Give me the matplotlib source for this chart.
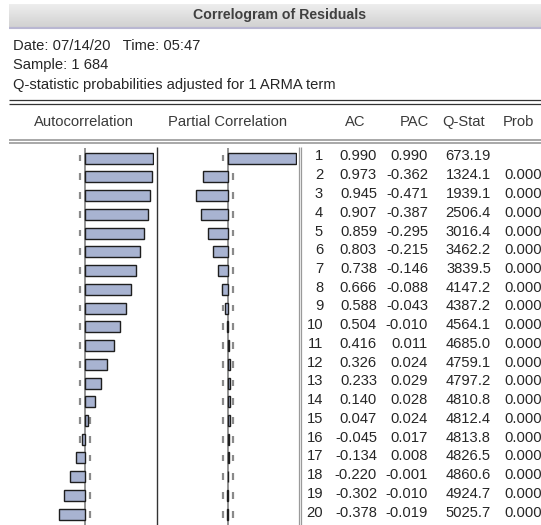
import numpy as np
import matplotlib
matplotlib.use("Agg")
import matplotlib.pyplot as plt

# correlogram of residuals (EViews style)
lags = list(range(1, 21))
ac = [0.990, 0.973, 0.945, 0.907, 0.859, 0.803, 0.738, 0.666, 0.588, 0.504,
      0.416, 0.326, 0.233, 0.140, 0.047, -0.045, -0.134, -0.220, -0.302, -0.378]
pac = [0.990, -0.362, -0.471, -0.387, -0.295, -0.215, -0.146, -0.088, -0.043, -0.010,
       0.011, 0.024, 0.029, 0.028, 0.024, 0.017, 0.008, -0.001, -0.010, -0.019]
qstat = [673.19, 1324.1, 1939.1, 2506.4, 3016.4, 3462.2, 3839.5, 4147.2, 4387.2, 4564.1,
         4685.0, 4759.1, 4797.2, 4810.8, 4812.4, 4813.8, 4826.5, 4860.6, 4924.7, 5025.7]
prob = [None] + [0.000] * 19
nobs = 684

title = "Correlogram of Residuals"
info = ["Date: 07/14/20   Time: 05:47",
        "Sample: 1 684",
        "Q-statistic probabilities adjusted for 1 ARMA term"]
headers = ["Autocorrelation", "Partial Correlation", "AC", "PAC", "Q-Stat", "Prob"]

plt.rcParams['font.family'] = ['Liberation Sans', 'DejaVu Sans']
FS = 10.6
bar_fill = "#a8b3d1"
txt_col = "#262626"

W, H = 541, 525
fig = plt.figure(figsize=(W / 100, H / 100), dpi=100)


def px_axes(x0, y0, x1, y1):
    return fig.add_axes([x0 / W, 1 - y1 / H, (x1 - x0) / W, (y1 - y0) / H])


# full-figure frame for title bar, header and rules
frame = px_axes(0, 0, W, H)
frame.set_xlim(0, W)
frame.set_ylim(H, 0)
frame.axis("off")

grad = np.linspace(0.93, 0.82, 50).reshape(-1, 1)
frame.imshow(grad, cmap="gray", vmin=0, vmax=1, aspect="auto",
             extent=[9, W, 27, 4], zorder=0)
frame.hlines(28, 9, W, color="#b9b7d2", lw=1.5)
frame.text(280, 15, title, ha="center", va="center", fontsize=10.2,
           fontweight="bold", color="#404040")

for i, line in enumerate(info):
    frame.text(13, 46 + i * 19.5, line, ha="left", va="center", fontsize=FS, color=txt_col)

frame.hlines([100, 103.5], 9, W, color="#333333", lw=0.9)
frame.hlines([139.5, 143], 9, W, color="#9a9a9a", lw=1.2)

head_x = [84, 228, 355, 414, 464, 518]
for hx, h in zip(head_x, headers):
    frame.text(hx, 122, h, ha="center", va="center", fontsize=FS, color="#3a3a3a")

frame.vlines(157, 147, H, color="#333333", lw=1.0)
frame.vlines([298.5, 300.5], 147, H, color="#9a9a9a", lw=0.9)

# row mapping: lag 1 centred at pixel 158, pitch 18.75 px
pitch, first, top = 18.75, 158, 148
ylim = (1 + (H - first) / pitch, 1 - (first - top) / pitch)
bar_h = 11 / pitch
band = 2 / np.sqrt(nobs)


def panel(x_zero, values):
    ax = px_axes(x_zero - 69, top, x_zero + 69, H)
    ax.set_xlim(-1, 1)
    ax.set_ylim(*ylim)
    ax.axis("off")
    ax.axvline(0, color="#8a8a8a", lw=1.3, zorder=1)
    for s in (-band, band):
        ax.vlines([s] * len(lags), np.array(lags) - 0.18, np.array(lags) + 0.18,
                  color="#8a8a8a", lw=1.6, zorder=1)
    ax.barh(lags, values, height=bar_h, color=bar_fill, edgecolor="#1e1e1e",
            lw=1.0, zorder=2)
    return ax


panel(85, ac)
panel(228, pac)

# numeric table
tab = px_axes(300, top, W, H)
tab.set_xlim(300, W)
tab.set_ylim(*ylim)
tab.axis("off")
for k, a, p, q, pr in zip(lags, ac, pac, qstat, prob):
    y = k - 0.08
    kw = dict(ha="right", va="center", fontsize=FS, color=txt_col, clip_on=False)
    tab.text(323, y, f"{k}", **kw)
    tab.text(377, y, f"{a:.3f}", **kw)
    tab.text(428, y, f"{p:.3f}", **kw)
    tab.text(491, y, f"{q:.2f}" if q < 1000 else f"{q:.1f}", **kw)
    if pr is not None:
        tab.text(542, y, f"{pr:.3f}", **kw)

fig.savefig("out.png", dpi=100)
